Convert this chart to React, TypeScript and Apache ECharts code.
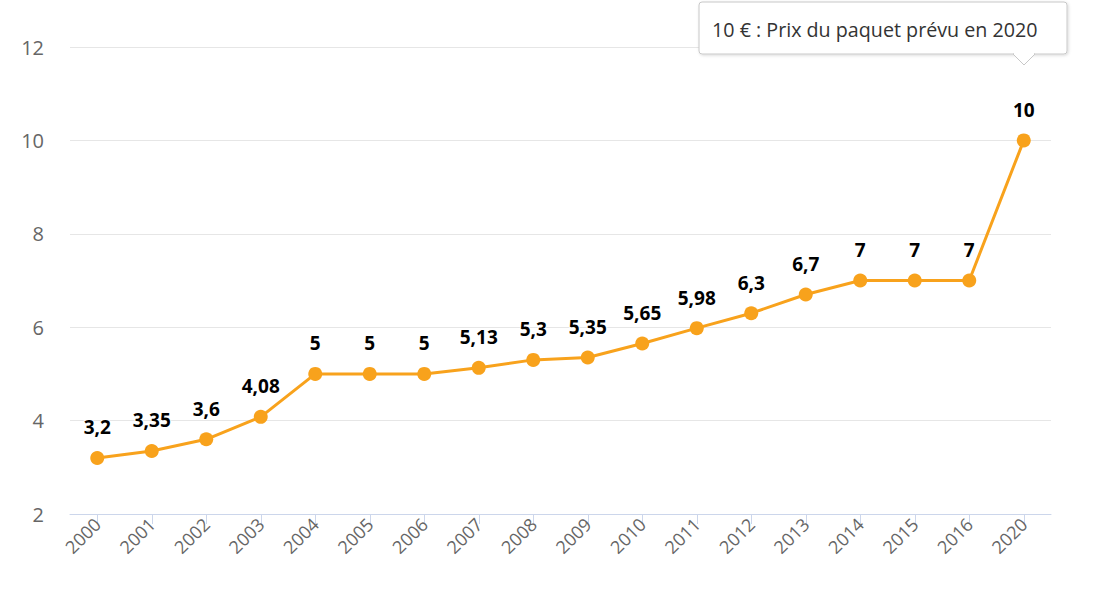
import React, { useEffect, useRef } from "react";
import * as echarts from "echarts";

const years = ["2000","2001","2002","2003","2004","2005","2006","2007","2008","2009","2010","2011","2012","2013","2014","2015","2016","2020"];
const prices = [3.2,3.35,3.6,4.08,5,5,5,5.13,5.3,5.35,5.65,5.98,6.3,6.7,7,7,7,10];
const noteText = "10 € : Prix du paquet prévu en 2020";

const FONT = "'Open Sans', 'Noto Sans', sans-serif";

export default function App() {
  const ref = useRef<HTMLDivElement>(null);
  useEffect(() => {
    if (!ref.current) return;
    const chart = echarts.init(ref.current, null, { renderer: "svg" });
    chart.setOption({
      animation: false,
      backgroundColor: "#ffffff",
      grid: { left: 70, right: 49, top: 47, bottom: 84 },
      xAxis: {
        type: "category",
        data: years,
        boundaryGap: true,
        axisLine: { lineStyle: { color: "#ccd6eb", width: 1 } },
        axisTick: { show: true, alignWithLabel: true, length: 10, lineStyle: { color: "#ccd6eb" } },
        axisLabel: { rotate: 45, color: "#666666", fontSize: 18, fontFamily: FONT, margin: 7, interval: 0 },
        splitLine: { show: false },
      },
      yAxis: {
        type: "value",
        min: 2,
        max: 12,
        interval: 2,
        axisLine: { show: false },
        axisTick: { show: false },
        axisLabel: { color: "#666666", fontSize: 20, fontFamily: FONT, margin: 26 },
        splitLine: { lineStyle: { color: "#e6e6e6", width: 1 } },
      },
      series: [
        {
          type: "line",
          data: prices,
          symbol: "circle",
          symbolSize: 14,
          lineStyle: { color: "#f8a21c", width: 3 },
          itemStyle: { color: "#f8a21c" },
          label: {
            show: true,
            position: "top",
            distance: 14,
            color: "#000000",
            fontWeight: "bold",
            fontSize: 19,
            fontFamily: FONT,
            textBorderColor: "#ffffff",
            textBorderWidth: 2,
            formatter: (p: any) => String(p.value).replace(".", ","),
          },
        },
      ],
      graphic: [
        {
          type: "rect",
          shape: { x: 699, y: 2, width: 368, height: 52, r: 3 },
          style: { fill: "#ffffff", stroke: "#c8c8c8", lineWidth: 1, shadowBlur: 3, shadowColor: "rgba(0,0,0,0.15)", shadowOffsetX: 1, shadowOffsetY: 1 },
          z: 100,
        },
        {
          type: "polygon",
          shape: { points: [[1013, 54], [1035, 54], [1024, 65]] },
          style: { fill: "#ffffff", stroke: "#c8c8c8", lineWidth: 1 },
          z: 100,
        },
        {
          type: "line",
          shape: { x1: 1014, y1: 54, x2: 1034, y2: 54 },
          style: { stroke: "#ffffff", lineWidth: 2 },
          z: 101,
        },
        {
          type: "text",
          x: 712,
          y: 29,
          style: { text: noteText, fill: "#333333", fontSize: 19.7, fontFamily: FONT, textVerticalAlign: "middle", verticalAlign: "middle" },
          z: 102,
        },
      ],
    });
    return () => chart.dispose();
  }, []);
  return <div ref={ref} style={{ position: "fixed", left: 0, top: 0, width: 1100, height: 598 }} />;
}
